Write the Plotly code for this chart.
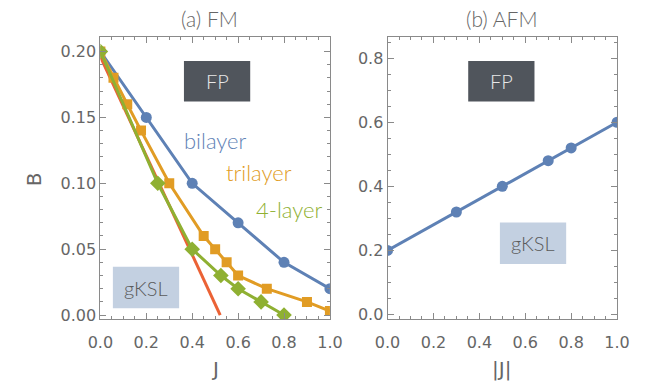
import plotly.graph_objects as go

# ---- data ----
# (a) FM: critical field B versus J for each stack
bilayer_J = [0.0, 0.2, 0.4, 0.6, 0.8, 1.0]
bilayer_B = [0.20, 0.15, 0.10, 0.07, 0.04, 0.02]

trilayer_J = [0.0, 0.057, 0.117, 0.177, 0.30, 0.45, 0.50, 0.55, 0.60, 0.725, 0.90, 1.0]
trilayer_B = [0.20, 0.18, 0.16, 0.14, 0.10, 0.06, 0.05, 0.04, 0.03, 0.02, 0.01, 0.003]

four_J = [0.0, 0.25, 0.40, 0.525, 0.60, 0.70, 0.80]
four_B = [0.20, 0.10, 0.05, 0.03, 0.02, 0.01, 0.0]

bulk_J = [0.0, 0.522]
bulk_B = [0.196, 0.0]

# (b) AFM: critical field B versus |J|
afm_J = [0.0, 0.3, 0.5, 0.7, 0.8, 1.0]
afm_B = [0.20, 0.32, 0.40, 0.48, 0.52, 0.60]

BLUE, ORANGE, GREEN, RED = "#5E81B5", "#E19C24", "#8FB032", "#EB6235"
W, H = 656, 390
TXT = "#666666"
FRAME = "#8a8a8a"
TICKFONT = dict(family="DejaVu Sans", size=16, color=TXT)
LABELFONT = "Lato"


def px(x):
    return x / W


def py(y):
    return 1 - y / H


fig = go.Figure()

fig.add_trace(go.Scatter(x=bulk_J, y=bulk_B, mode="lines",
                         line=dict(color=RED, width=3), xaxis="x", yaxis="y"))
fig.add_trace(go.Scatter(x=bilayer_J, y=bilayer_B, mode="lines+markers",
                         line=dict(color=BLUE, width=3),
                         marker=dict(symbol="circle", size=11, color=BLUE),
                         xaxis="x", yaxis="y"))
fig.add_trace(go.Scatter(x=trilayer_J, y=trilayer_B, mode="lines+markers",
                         line=dict(color=ORANGE, width=3),
                         marker=dict(symbol="square", size=10, color=ORANGE),
                         xaxis="x", yaxis="y"))
fig.add_trace(go.Scatter(x=four_J, y=four_B, mode="lines+markers",
                         line=dict(color=GREEN, width=3),
                         marker=dict(symbol="diamond", size=12, color=GREEN),
                         xaxis="x", yaxis="y"))
fig.add_trace(go.Scatter(x=afm_J, y=afm_B, mode="lines+markers",
                         line=dict(color=BLUE, width=3),
                         marker=dict(symbol="circle", size=11, color=BLUE),
                         xaxis="x2", yaxis="y2"))


def frame_axis(**kw):
    base = dict(showline=True, linecolor=FRAME, linewidth=1, mirror="ticks",
                ticks="inside", ticklen=6, tickcolor=FRAME, tickwidth=1,
                showgrid=False, zeroline=False, tickfont=TICKFONT,
                fixedrange=True)
    base.update(kw)
    return base


fig.update_layout(
    width=W, height=H,
    margin=dict(l=0, r=0, t=0, b=0),
    paper_bgcolor="white", plot_bgcolor="white",
    showlegend=False,
    xaxis=frame_axis(domain=[px(91), px(330)], range=[0, 1], dtick=0.2,
                     tickformat=".1f", anchor="y", ticklabelstandoff=9,
                     minor=dict(ticks="inside", dtick=0.05, ticklen=3,
                                tickcolor=FRAME)),
    yaxis=frame_axis(domain=[py(324), py(38)], range=[-0.003, 0.2107],
                     tick0=0, dtick=0.05, tickformat=".2f", anchor="x",
                     minor=dict(ticks="inside", dtick=0.01, ticklen=3,
                                tickcolor=FRAME)),
    xaxis2=frame_axis(domain=[px(390), px(629)], range=[0, 1], dtick=0.2,
                      tickformat=".1f", anchor="y2", ticklabelstandoff=9,
                      minor=dict(ticks="inside", dtick=0.05, ticklen=3,
                                 tickcolor=FRAME)),
    yaxis2=frame_axis(domain=[py(324), py(38)], range=[-0.0138, 0.8646],
                      tick0=0, dtick=0.2, tickformat=".1f", anchor="x2",
                      minor=dict(ticks="inside", dtick=0.05, ticklen=3,
                                 tickcolor=FRAME)),
)


def label(x, y, text, font, angle=0):
    fig.add_annotation(xref="paper", yref="paper", x=px(x), y=py(y),
                       xanchor="center", yanchor="middle", text=text,
                       showarrow=False, textangle=angle, font=font)


# phase boxes
boxes = [
    (178, 62, 247, 103, "#50555C", "FP", "#e8e8e8"),
    (104, 271, 173, 313, "#C3D0E1", "gKSL", "#5a5a5a"),
    (474, 62, 543, 103, "#50555C", "FP", "#e8e8e8"),
    (507, 226, 576, 268, "#C3D0E1", "gKSL", "#5a5a5a"),
]
for x0, y0, x1, y1, fill, text, tcol in boxes:
    fig.add_shape(type="rect", xref="paper", yref="paper",
                  x0=px(x0), x1=px(x1), y0=py(y1), y1=py(y0),
                  fillcolor=fill, line=dict(width=0), layer="above")
    label((x0 + x1) / 2, (y0 + y1) / 2, text,
          dict(family=LABELFONT, size=20, color=tcol, weight=300))

# curve labels
for x, y, text, col in [(211, 143, "bilayer", BLUE),
                        (256, 175, "trilayer", ORANGE),
                        (287, 213, "4-layer", GREEN)]:
    label(x, y, text, dict(family=LABELFONT, size=22, color=col, weight=300))

# panel titles
for x, text in [(205, "(a) FM"), (509, "(b) AFM")]:
    label(x, 19, text, dict(family=LABELFONT, size=21, color=TXT, weight=300))

# axis titles
AXFONT = dict(family="DejaVu Sans", size=20, color=TXT)
label(210, 375, "J", AXFONT)
label(509, 375, "|J|", AXFONT)
label(22, 182, "B", AXFONT, -90)

fig.write_html("out.html")
